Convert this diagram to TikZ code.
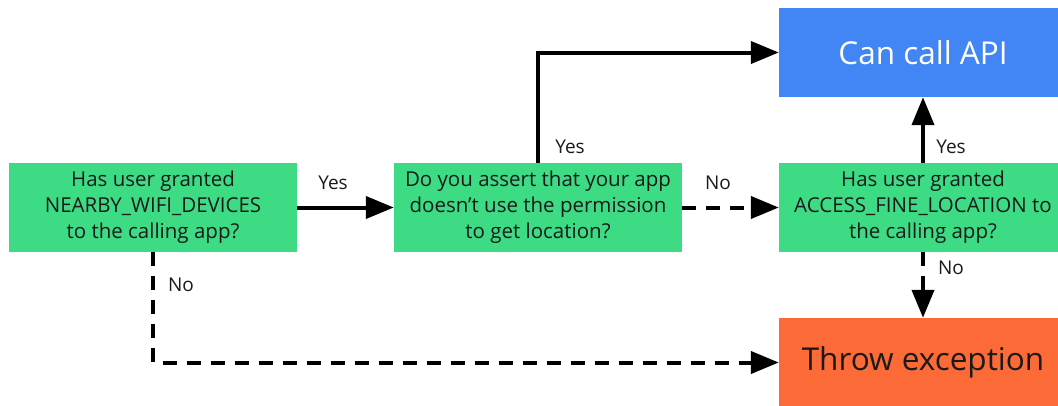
\documentclass[tikz,border=0pt]{standalone}
\usepackage{fontspec}
\setmainfont{Open Sans}
\usetikzlibrary{arrows.meta}
\definecolor{agreen}{HTML}{3DDC84}
\definecolor{ablue}{HTML}{4285F4}
\definecolor{aorange}{HTML}{FB6A37}
\definecolor{atext}{HTML}{1A1A1A}
\begin{document}
\begin{tikzpicture}[x=1pt,y=-1pt,
  qbox/.style={fill=agreen, minimum width=288pt, minimum height=89pt, inner sep=0pt,
    align=center, text=atext, font=\fontsize{20.5}{26}\selectfont},
  resbox/.style={minimum width=288pt, minimum height=89pt, inner sep=0pt,
    font=\fontsize{31.5}{36}\selectfont},
  conn/.style={line width=4pt, -{Triangle[length=28pt,width=22pt]}},
  dconn/.style={conn, dash pattern=on 14pt off 10pt},
  lbl/.style={font=\fontsize{19}{22}\selectfont, text=atext, inner sep=0pt}]
\useasboundingbox (0,0) rectangle (1058,405);
\clip (0,0) rectangle (1058,405);
\node[qbox] (b1) at (153,207.5) {Has user granted\\NEARBY\_WIFI\_DEVICES\\to the calling app?};
\node[qbox] (b2) at (538,207.5) {Do you assert that your app\\doesn’t use the permission\\to get location?};
\node[qbox] (b3) at (923,207.5) {Has user granted\\ACCESS\_FINE\_LOCATION to\\the calling app?};
\node[resbox, fill=ablue, text=white] (api) at (923,52.5) {Can call API};
\node[resbox, fill=aorange, text=atext] (exc) at (923,362.5) {Throw exception};
\draw[conn] (b1.east) -- (b2.west);
\draw[conn] (b2.north) |- (api.west);
\draw[dconn] (b2.east) -- (b3.west);
\draw[conn] (b3.north) -- (api.south);
\draw[dconn] (b3.south) -- (exc.north);
\draw[dconn] (b1.south) |- (exc.west);
\node[lbl] (l1) at (333,183) {Yes};
\node[lbl] (l2) at (570,147) {Yes};
\node[lbl] (l3) at (718,183) {No};
\node[lbl] (l4) at (951,147) {Yes};
\node[lbl] (l5) at (951,268) {No};
\node[lbl] (l6) at (181,285) {No};
\end{tikzpicture}
\end{document}
